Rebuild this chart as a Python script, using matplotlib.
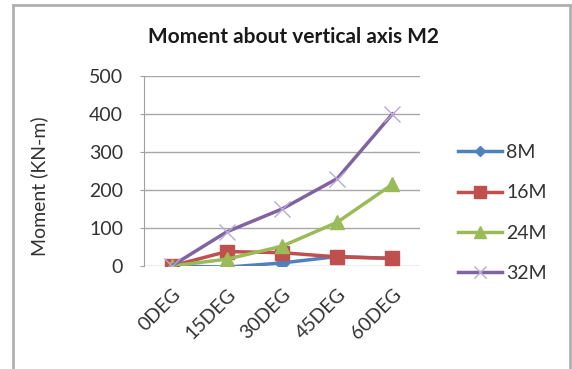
import matplotlib.pyplot as plt
from matplotlib.lines import Line2D

plt.rcParams['font.family'] = ['Lato', 'DejaVu Sans']

angulos = ["0DEG", "15DEG", "30DEG", "45DEG", "60DEG"]
m8 = [0, -3, 8, 25, 20]
m16 = [0, 38, 35, 24, 20]
m24 = [0, 18, 52, 115, 215]
m32 = [0, 90, 150, 230, 400]

W, H = 572, 369
fig = plt.figure(figsize=(W / 100, H / 100), dpi=100)
ax = fig.add_axes([144 / W, 1 - 266 / H, 276 / W, 190 / H])

x = range(len(angulos))
ax.plot(x, m8, color="#4F81BD", lw=2.5, marker="D", ms=7, label="8M")
ax.plot(x, m16, color="#C0504D", lw=2.5, marker="s", ms=10, label="16M")
ax.plot(x, m24, color="#9BBB59", lw=2.5, marker="^", ms=10, label="24M")
ax.plot(x, m32, color="#8064A2", lw=2.5, marker="x", ms=11, mew=1,
        mec="#B9A8D6", label="32M")

ax.set_xlim(-0.5, 4.5)
ax.set_ylim(0, 500)
ax.set_yticks([0, 100, 200, 300, 400, 500])
ax.set_xticks(list(x))
ax.set_xticklabels(angulos, rotation=45, ha="right", rotation_mode="anchor")
ax.tick_params(axis="both", labelsize=14, colors="#333333", length=3,
               color="#A0A0A0")
ax.tick_params(axis="y", pad=12)
ax.tick_params(axis="x", length=0, pad=14)
ax.grid(axis="y", color="#A8A8A8", lw=1)
ax.set_axisbelow(True)
for lado in ["top", "right", "bottom"]:
    ax.spines[lado].set_visible(False)
ax.spines["left"].set_color("#A0A0A0")
ax.set_ylabel("Moment (KN-m)", fontsize=14, color="#333333")
ax.yaxis.set_label_coords((48 - 144) / 276, 0.42)

fig.text(294 / W, 1 - 37 / H, "Moment about vertical axis M2", ha="center",
         va="center", fontsize=15, fontweight="bold", color="#1a1a1a")

ax.legend(loc="center left", bbox_to_anchor=(440 / W, 1 - 213 / H),
          bbox_transform=fig.transFigure, frameon=False, fontsize=14,
          labelspacing=1.2, handlelength=2.3, handletextpad=0.2,
          labelcolor="#333333", markerscale=0.8)

# moldura
fig.add_artist(Line2D([13 / W, 13 / W], [0, 1 - 5 / H], color="#B0B0B0", lw=2))
fig.add_artist(Line2D([570 / W, 570 / W], [0, 1 - 5 / H], color="#B0B0B0", lw=2))
fig.add_artist(Line2D([13 / W, 570 / W], [1 - 5 / H, 1 - 5 / H], color="#B0B0B0", lw=2))

plt.savefig("out.png")
